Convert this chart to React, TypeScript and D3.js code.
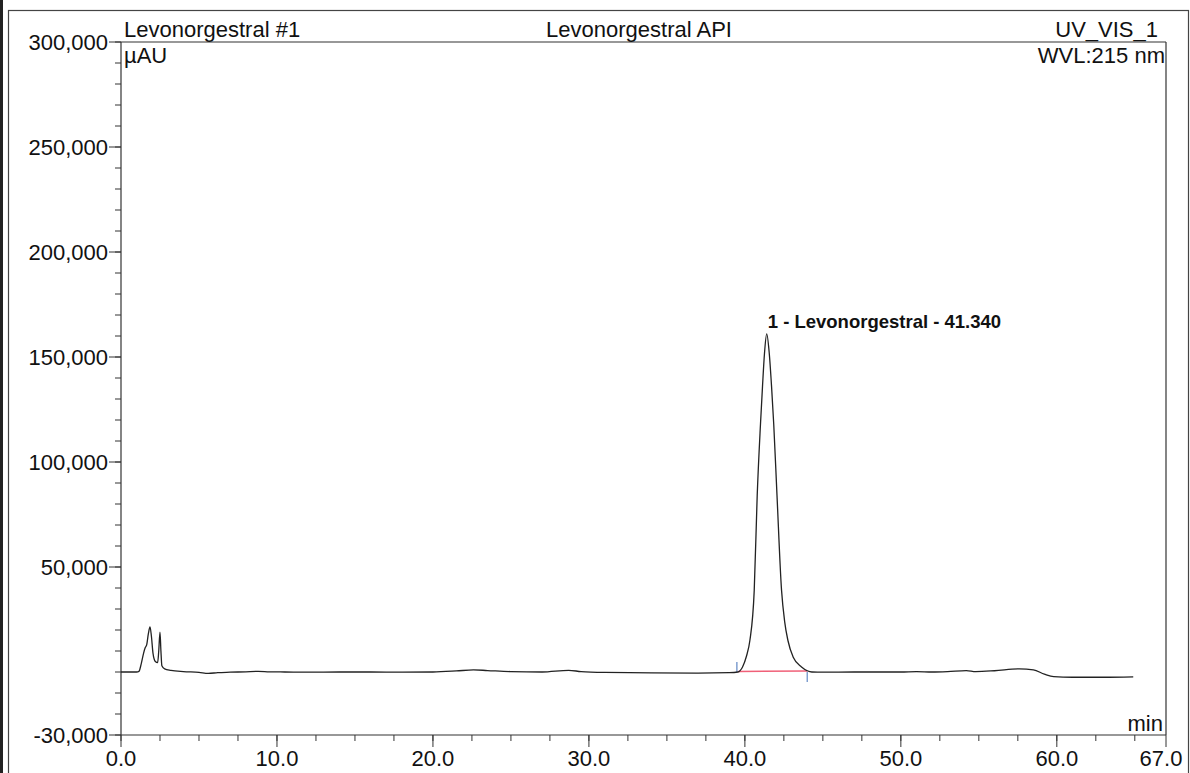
import React from 'react';
import * as d3 from 'd3';

// Chromatogram readings (time in min, signal in µAU)
const timeMin = [
  0.0, 0.5, 1.0, 1.15, 1.3, 1.45, 1.55, 1.65, 1.75, 1.86, 1.95, 2.05, 2.2, 2.35, 2.42, 2.5, 2.56, 2.62, 2.8, 3.2,
  4.0, 5.0, 5.6, 6.2, 7.0, 8.0, 8.8, 9.5, 10.5, 12, 14, 16, 18, 20, 21.5, 22.6, 23.5, 25, 27, 28.7,
  29.5, 31, 34, 37, 39.0, 39.55, 39.85, 40.1, 40.32, 40.6, 40.79, 41.0, 41.13, 41.26, 41.4, 41.56, 41.71, 41.85, 42.06, 42.35,
  42.55, 42.76, 43.1, 43.63, 44.0, 44.3, 45, 47, 50, 51, 52, 53, 54.2, 54.8, 56, 57.6, 58.5, 59.2, 59.8, 61,
  63, 64.9,
];
const signal = [
  0, 0, 0, 300, 4000, 9000, 11500, 13000, 18000, 21500, 17000, 9000, 5000, 4500, 10000, 19000, 10000, 3000, 1500, 800,
  200, -200, -700, -300, -100, 100, 300, 100, 0, -100, 0, 0, -100, 0, 500, 1000, 700, 200, 0, 800,
  200, -200, -400, -500, -300, 0, 2400, 7500, 15000, 39000, 84000, 118000, 136000, 152000, 161000, 152000, 136000, 118000, 84000, 39000,
  24000, 15000, 7000, 2400, 600, 0, -100, 0, 0, 200, 0, 200, 700, 200, 600, 1500, 1000, -1000, -2200, -2500,
  -2500, -2300,
];

const yMajorTicks = [300000, 250000, 200000, 150000, 100000, 50000, -30000];
const yTickLabels = ['300,000', '250,000', '200,000', '150,000', '100,000', '50,000', '-30,000'];
const xMajorTicks = [0, 10, 20, 30, 40, 50, 60, 67];
const xTickLabels = ['0.0', '10.0', '20.0', '30.0', '40.0', '50.0', '60.0', '67.0'];

const headerLeft = 'Levonorgestral #1';
const headerCenter = 'Levonorgestral API';
const headerRight = 'UV_VIS_1';
const wavelength = 'WVL:215 nm';
const yUnit = 'µAU';
const xUnit = 'min';
const peakLabel = '1 - Levonorgestral - 41.340';
const peakRT = 41.4;
const peakHeight = 161000;
const integStart = 39.55;
const integEnd = 44.0;

const W = 1190;
const H = 773;
const font = '"Liberation Sans", Arial, sans-serif';
const fs = 22;

export default function App() {
  const x = d3.scaleLinear().domain([0, 67]).range([121, 1166]);
  const y = d3.scaleLinear().domain([-30000, 300000]).range([735, 42]);

  const pts: [number, number][] = timeMin.map((t, i) => [t, signal[i]]);
  const line = d3
    .line<[number, number]>()
    .x((d) => x(d[0]))
    .y((d) => y(d[1]))
    .curve(d3.curveMonotoneX);

  const yMinor = d3.range(-30000, 300001, 10000);
  const xMinor = d3.range(0, 67, 2.5);

  return (
    <div style={{ position: 'absolute', left: 0, top: 0 }}>
      <svg width={W} height={H} style={{ display: 'block', background: '#fff' }} fontFamily={font}>
        {/* outer frame */}
        <rect x={0} y={0} width={3} height={H} fill="#222" />
        <rect x={8.5} y={10.5} width={1180} height={800} fill="none" stroke="#444" strokeWidth={1.2} />

        {/* plot frame */}
        <line x1={x(0)} x2={x(67)} y1={y(300000)} y2={y(300000)} stroke="#333" strokeWidth={1.2} />
        <line x1={x(67)} x2={x(67)} y1={y(300000)} y2={y(-30000)} stroke="#333" strokeWidth={1.2} />
        <line x1={x(0)} x2={x(0)} y1={y(300000)} y2={y(-30000)} stroke="#333" strokeWidth={1.2} />
        <line x1={x(0)} x2={x(67)} y1={y(-30000)} y2={y(-30000)} stroke="#333" strokeWidth={1.2} />

        {/* y ticks */}
        {yMinor.map((v) => (
          <line key={'ym' + v} x1={x(0) - 6} x2={x(0)} y1={y(v)} y2={y(v)} stroke="#333" strokeWidth={1} />
        ))}
        {yMajorTicks.map((v, i) => (
          <g key={'yM' + v}>
            <line x1={x(0) - 12} x2={x(0)} y1={y(v)} y2={y(v)} stroke="#333" strokeWidth={1} />
            <text x={x(0) - 13} y={y(v)} textAnchor="end" dominantBaseline="central" fontSize={fs} fill="#111">
              {yTickLabels[i]}
            </text>
          </g>
        ))}

        {/* x ticks */}
        {xMinor.map((t) => (
          <line key={'xm' + t} x1={x(t)} x2={x(t)} y1={y(-30000)} y2={y(-30000) + 6} stroke="#333" strokeWidth={1} />
        ))}
        {xMajorTicks.map((t, i) => (
          <g key={'xM' + t}>
            <line x1={x(t)} x2={x(t)} y1={y(-30000)} y2={y(-30000) + 12} stroke="#333" strokeWidth={1} />
            <text
              x={x(t) - (i === xMajorTicks.length - 1 ? 5 : 0)}
              y={766}
              textAnchor="middle"
              fontSize={fs}
              fill="#111"
            >
              {xTickLabels[i]}
            </text>
          </g>
        ))}

        {/* headers */}
        <text x={124} y={37} fontSize={fs} fill="#111">{headerLeft}</text>
        <text x={639} y={37} fontSize={fs} fill="#111" textAnchor="middle">{headerCenter}</text>
        <text x={1158} y={37} fontSize={fs} fill="#111" textAnchor="end">{headerRight}</text>
        <text x={1165} y={63} fontSize={fs} fill="#111" textAnchor="end">{wavelength}</text>
        <text x={124} y={63} fontSize={fs} fill="#111">{yUnit}</text>
        <text x={1163} y={731} fontSize={fs} fill="#111" textAnchor="end">{xUnit}</text>

        {/* integration baseline */}
        <line x1={x(integStart)} x2={x(integEnd)} y1={y(0) - 0.5} y2={y(0) - 1} stroke="#f06078" strokeWidth={1.5} />
        <line x1={x(integStart) - 1} x2={x(integStart) - 1} y1={y(0) - 10} y2={y(0)} stroke="#7f9fd0" strokeWidth={1.5} />
        <line x1={x(integEnd)} x2={x(integEnd)} y1={y(0)} y2={y(0) + 10} stroke="#7f9fd0" strokeWidth={1.5} />

        {/* trace */}
        <path d={line(pts) || ''} fill="none" stroke="#222" strokeWidth={1.3} />

        {/* peak label */}
        <text x={x(peakRT) + 1} y={y(peakHeight) - 6} fontSize={18.5} fontWeight="bold" fill="#111">
          {peakLabel}
        </text>
      </svg>
    </div>
  );
}
